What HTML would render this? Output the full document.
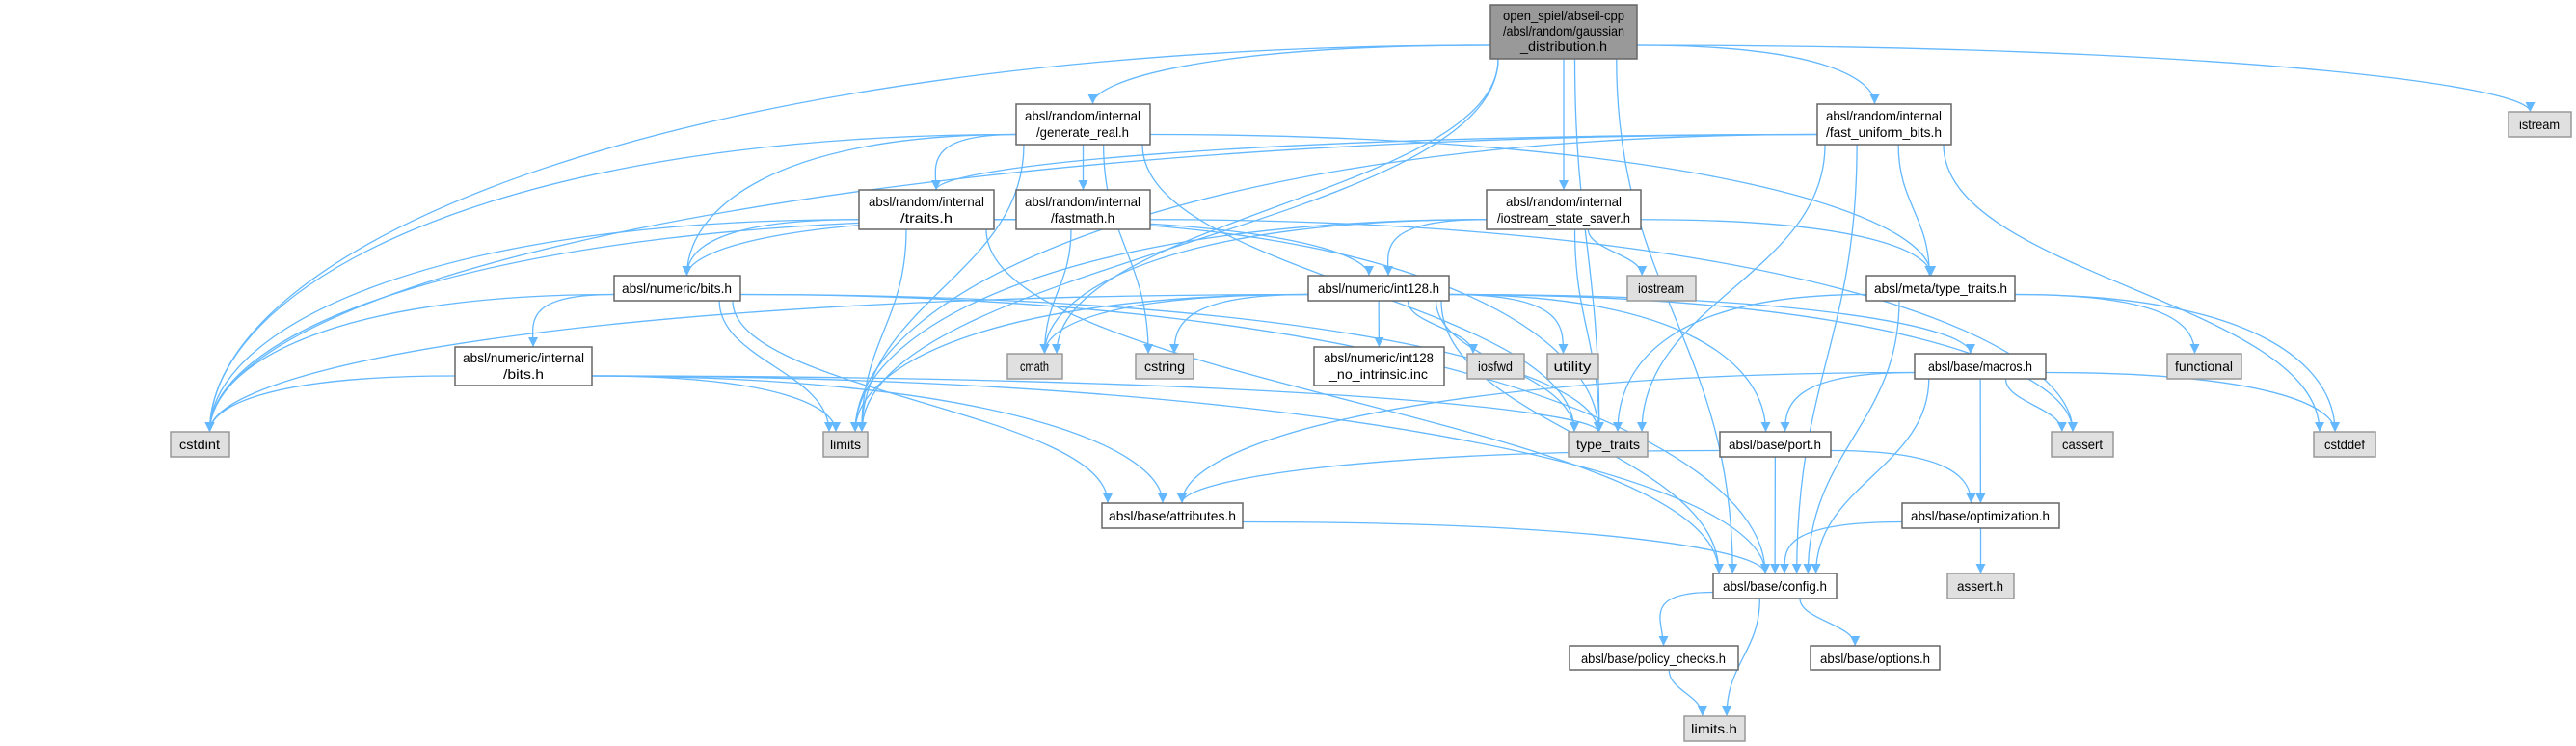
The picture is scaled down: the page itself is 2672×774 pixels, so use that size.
<!DOCTYPE html>
<html><head><meta charset="utf-8">
<style>
html,body{margin:0;padding:0;background:#fff;}
svg{display:block;}
text{font-family:"Liberation Sans",Arial,sans-serif;font-size:14px;fill:#000;}
.n rect{fill:#fff;stroke:#666;stroke-width:1.5;}
.g rect{fill:#e0e0e0;stroke:#999;stroke-width:1.5;}
.m rect{fill:#999;stroke:#666;stroke-width:1.5;}
path.e{fill:none;stroke:#63b8ff;stroke-width:1.3;}
</style></head>
<body>
<svg id="s" width="2672" height="774" viewBox="0 0 2672 774" xmlns="http://www.w3.org/2000/svg">
<defs><marker id="a" viewBox="0 0 10 10" refX="10" refY="5" markerWidth="10" markerHeight="10" markerUnits="userSpaceOnUse" orient="auto"><path d="M0,0 L10,5 L0,10 z" fill="#63b8ff"/></marker></defs>
<g id="edges"></g>
<g id="nodes">
<g class="m" id="main"><rect x="1546" y="5" width="152" height="56"/><text x="1622" y="21" text-anchor="middle">open_spiel/abseil-cpp</text><text x="1622" y="37" text-anchor="middle">/absl/random/gaussian</text><text x="1622" y="53" text-anchor="middle">_distribution.h</text></g>
<g class="n" id="gen"><rect x="1054" y="108" width="139" height="42"/><text x="1123" y="125" text-anchor="middle">absl/random/internal</text><text x="1123" y="142" text-anchor="middle">/generate_real.h</text></g>
<g class="n" id="traits"><rect x="891" y="197" width="140" height="41"/><text x="961" y="214" text-anchor="middle">absl/random/internal</text><text x="961" y="231" text-anchor="middle">/traits.h</text></g>
<g class="n" id="fastmath"><rect x="1054" y="197" width="139" height="41"/><text x="1123" y="214" text-anchor="middle">absl/random/internal</text><text x="1123" y="231" text-anchor="middle">/fastmath.h</text></g>
<g class="n" id="iss"><rect x="1542" y="197" width="160" height="41"/><text x="1622" y="214" text-anchor="middle">absl/random/internal</text><text x="1622" y="231" text-anchor="middle">/iostream_state_saver.h</text></g>
<g class="n" id="fub"><rect x="1885" y="108" width="139" height="42"/><text x="1954" y="125" text-anchor="middle">absl/random/internal</text><text x="1954" y="142" text-anchor="middle">/fast_uniform_bits.h</text></g>
<g class="g" id="istream"><rect x="2602" y="116" width="65" height="26"/><text x="2634" y="134" text-anchor="middle">istream</text></g>
<g class="n" id="meta"><rect x="1936" y="286" width="154" height="26"/><text x="2013" y="304" text-anchor="middle">absl/meta/type_traits.h</text></g>
<g class="n" id="bits"><rect x="637" y="286" width="131" height="26"/><text x="702" y="304" text-anchor="middle">absl/numeric/bits.h</text></g>
<g class="n" id="int128"><rect x="1357" y="286" width="146" height="26"/><text x="1430" y="304" text-anchor="middle">absl/numeric/int128.h</text></g>
<g class="g" id="iostream"><rect x="1688" y="286" width="71" height="26"/><text x="1723" y="304" text-anchor="middle">iostream</text></g>
<g class="n" id="ibits"><rect x="472" y="360" width="142" height="40"/><text x="543" y="376" text-anchor="middle">absl/numeric/internal</text><text x="543" y="393" text-anchor="middle">/bits.h</text></g>
<g class="g" id="cmath"><rect x="1045" y="367" width="57" height="26"/><text x="1073" y="385" text-anchor="middle">cmath</text></g>
<g class="g" id="cstring"><rect x="1178" y="367" width="60" height="26"/><text x="1208" y="385" text-anchor="middle">cstring</text></g>
<g class="n" id="noint"><rect x="1363" y="360" width="135" height="40"/><text x="1430" y="376" text-anchor="middle">absl/numeric/int128</text><text x="1430" y="393" text-anchor="middle">_no_intrinsic.inc</text></g>
<g class="g" id="iosfwd"><rect x="1522" y="367" width="59" height="26"/><text x="1551" y="385" text-anchor="middle">iosfwd</text></g>
<g class="g" id="utility"><rect x="1605" y="367" width="53" height="26"/><text x="1631" y="385" text-anchor="middle">utility</text></g>
<g class="n" id="macros"><rect x="1986" y="367" width="136" height="26"/><text x="2054" y="385" text-anchor="middle">absl/base/macros.h</text></g>
<g class="g" id="functional"><rect x="2248" y="367" width="77" height="26"/><text x="2286" y="385" text-anchor="middle">functional</text></g>
<g class="g" id="cstdint"><rect x="177" y="448" width="61" height="26"/><text x="207" y="466" text-anchor="middle">cstdint</text></g>
<g class="g" id="limits"><rect x="854" y="448" width="46" height="26"/><text x="877" y="466" text-anchor="middle">limits</text></g>
<g class="g" id="type_traits"><rect x="1627" y="448" width="82" height="26"/><text x="1668" y="466" text-anchor="middle">type_traits</text></g>
<g class="n" id="port"><rect x="1784" y="448" width="115" height="26"/><text x="1841" y="466" text-anchor="middle">absl/base/port.h</text></g>
<g class="g" id="cassert"><rect x="2128" y="448" width="64" height="26"/><text x="2160" y="466" text-anchor="middle">cassert</text></g>
<g class="g" id="cstddef"><rect x="2400" y="448" width="64" height="26"/><text x="2432" y="466" text-anchor="middle">cstddef</text></g>
<g class="n" id="attributes"><rect x="1143" y="522" width="146" height="26"/><text x="1216" y="540" text-anchor="middle">absl/base/attributes.h</text></g>
<g class="n" id="optimization"><rect x="1973" y="522" width="163" height="26"/><text x="2054" y="540" text-anchor="middle">absl/base/optimization.h</text></g>
<g class="n" id="config"><rect x="1777" y="595" width="128" height="26"/><text x="1841" y="613" text-anchor="middle">absl/base/config.h</text></g>
<g class="g" id="asserth"><rect x="2020" y="595" width="69" height="26"/><text x="2054" y="613" text-anchor="middle">assert.h</text></g>
<g class="n" id="policy"><rect x="1628" y="670" width="175" height="25"/><text x="1715" y="688" text-anchor="middle">absl/base/policy_checks.h</text></g>
<g class="n" id="options"><rect x="1878" y="670" width="134" height="25"/><text x="1945" y="688" text-anchor="middle">absl/base/options.h</text></g>
<g class="g" id="limitsh"><rect x="1747" y="743" width="63" height="26"/><text x="1778" y="761" text-anchor="middle">limits.h</text></g>
</g>
</svg>
<script>
(function(){
var NS="http://www.w3.org/2000/svg";
// compress text to approximate doxygen's narrow font
document.querySelectorAll('#nodes text').forEach(function(t){
  var n=t.textContent.length; var w=n*6.0;
  var r=t.parentNode.querySelector('rect'); var bw=+r.getAttribute('width')-14;
  if(w>bw) w=bw;
  t.setAttribute('textLength',w.toFixed(1)); t.setAttribute('lengthAdjust','spacingAndGlyphs');
});
function box(id){var r=document.querySelector('#'+id+' rect');var x=+r.getAttribute('x'),y=+r.getAttribute('y'),w=+r.getAttribute('width'),h=+r.getAttribute('height');return {x1:x,x2:x+w,y1:y,y2:y+h,cx:x+w/2,cy:y+h/2};}
var E={
 main:['cmath','cstdint','istream','limits','type_traits','fub','gen','iss','config'],
 gen:['cstdint','cstring','limits','type_traits','meta','bits','fastmath','traits'],
 fub:['cstddef','cstdint','limits','type_traits','meta','traits','config'],
 traits:['cstdint','limits','type_traits','bits','int128','config'],
 fastmath:['cassert','cmath','cstdint','bits'],
 iss:['cmath','iostream','limits','type_traits','meta','int128'],
 int128:['cassert','cmath','cstdint','cstring','iosfwd','limits','type_traits','utility','config','macros','port','noint'],
 bits:['cstdint','limits','type_traits','attributes','config','ibits'],
 ibits:['cstdint','limits','type_traits','attributes','config'],
 meta:['cstddef','functional','type_traits','config'],
 macros:['cassert','cstddef','attributes','config','optimization','port'],
 port:['attributes','config','optimization'],
 optimization:['asserth','config'],
 attributes:['config'],
 config:['options','policy','limitsh'],
 policy:['limitsh']
};
var g=document.getElementById('edges');
function clamp(v,a,b){return Math.max(a,Math.min(b,v));}
for(var s in E){var S=box(s);E[s].forEach(function(t){
  var T=box(t);var d;
  var dx=T.cx-S.cx;
  if(T.y1>S.y2+4){
    var sx=clamp(S.cx+dx*0.25,S.x1+8,S.x2-8);
    var tx=clamp(T.cx-dx*0.2,T.x1+6,T.x2-6);
    var sy=S.y2, ty=T.y1, dy=ty-sy;
    if(Math.abs(T.cx-S.cx)>dy*2.5){
      // long horizontal: leave from side
      var side=dx>0?S.x2:S.x1; sy=S.cy+ (S.y2-S.cy)*0.5;
      var ex= dx>0? clamp(T.cx-10,T.x1+6,T.x2-6): clamp(T.cx+10,T.x1+6,T.x2-6);
      d='M'+side+','+sy+' C'+(side+dx*0.6)+','+sy+' '+ex+','+(ty-dy*0.5)+' '+ex+','+ty;
    } else {
      d='M'+sx+','+sy+' C'+sx+','+(sy+dy*0.45)+' '+tx+','+(ty-dy*0.45)+' '+tx+','+ty;
    }
  } else {
    var sx2=dx>0?S.x2:S.x1, tx2=dx>0?T.x1:T.x2;
    d='M'+sx2+','+S.cy+' C'+(sx2+(tx2-sx2)*0.5)+','+S.cy+' '+(sx2+(tx2-sx2)*0.5)+','+T.cy+' '+tx2+','+T.cy;
  }
  var p=document.createElementNS(NS,'path');p.setAttribute('d',d);p.setAttribute('class','e');p.setAttribute('marker-end','url(#a)');g.appendChild(p);
});}
})();
</script>
</body></html>
